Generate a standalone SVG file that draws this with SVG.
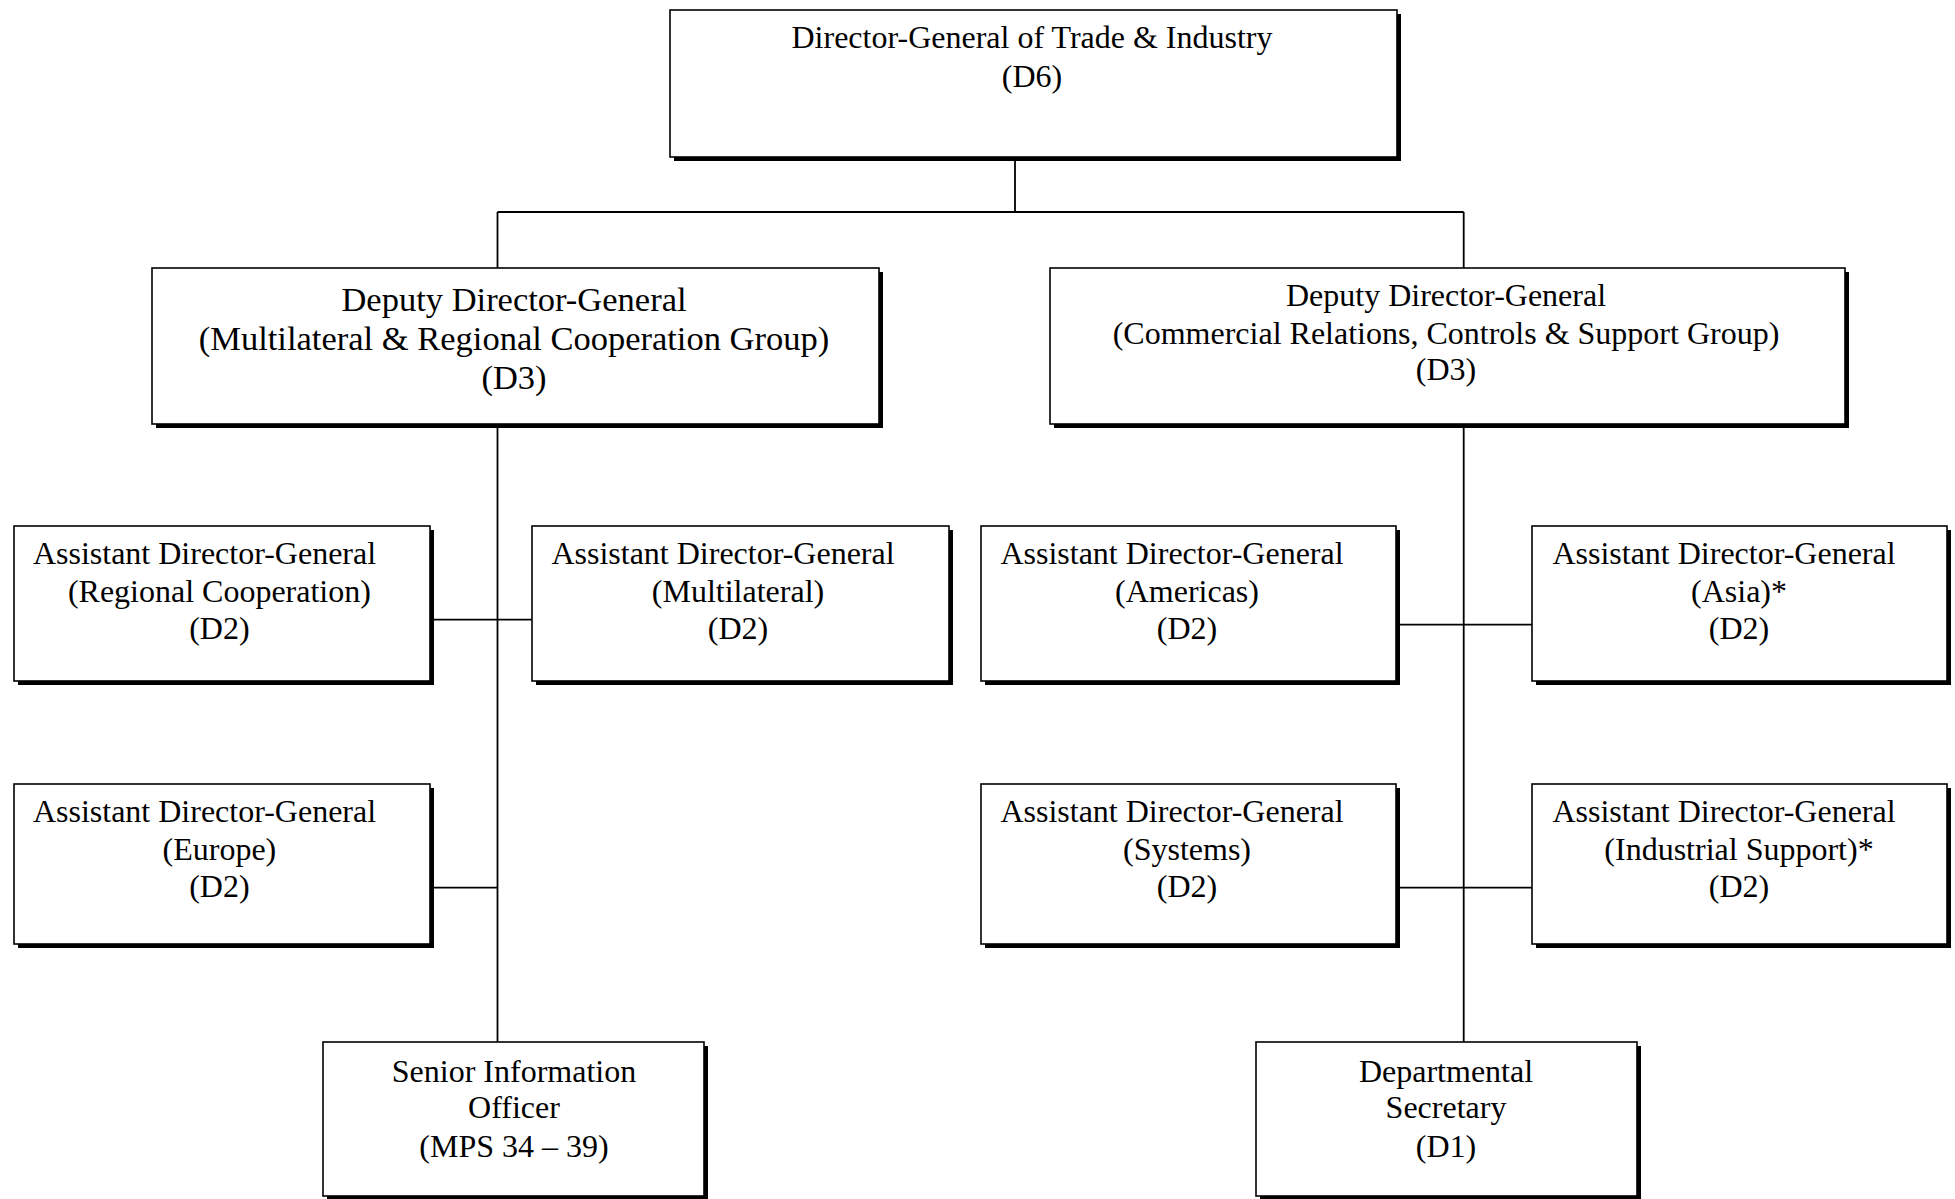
<svg xmlns="http://www.w3.org/2000/svg" width="1955" height="1199" viewBox="0 0 1955 1199">
<style>
.sh{fill:#000}
.bx{fill:#fff;stroke:#000;stroke-width:1.6}
.t{font-family:"Liberation Serif","Times New Roman",serif;font-size:32px;fill:#000;text-anchor:middle}
.tl{font-size:34.5px}
.c{stroke:#000;stroke-width:1.8;fill:none}
</style>
<rect width="1955" height="1199" fill="#fff"/>
<g id="connectors">
<path class="c" d="M1015,157 V212 M497.5,212 H1463.7 M497.5,212 V268 M1463.7,212 V268"/>
<path class="c" d="M497.5,424 V1042 M430,619.6 H532 M430,887.7 H497.5"/>
<path class="c" d="M1463.7,424 V1042 M1396,624.6 H1532 M1396,887.7 H1532"/>
</g>
<g id="dg">
<rect class="sh" x="674" y="14" width="727" height="147"/>
<rect class="bx" x="670" y="10" width="727" height="147"/>
<text class="t" x="1032" y="48">Director-General of Trade &amp; Industry</text>
<text class="t" x="1032" y="87">(D6)</text>
</g>
<g id="ddg-multilateral">
<rect class="sh" x="156" y="272" width="727" height="156"/>
<rect class="bx" x="152" y="268" width="727" height="156"/>
<text class="t tl" x="514" y="311">Deputy Director-General</text>
<text class="t tl" x="514" y="350">(Multilateral &amp; Regional Cooperation Group)</text>
<text class="t tl" x="514" y="389">(D3)</text>
</g>
<g id="ddg-commercial">
<rect class="sh" x="1054" y="272" width="795" height="156"/>
<rect class="bx" x="1050" y="268" width="795" height="156"/>
<text class="t" x="1446" y="306">Deputy Director-General</text>
<text class="t" x="1446" y="344">(Commercial Relations, Controls &amp; Support Group)</text>
<text class="t" x="1446" y="380">(D3)</text>
</g>
<g id="adg-regional">
<rect class="sh" x="18" y="530" width="416" height="155"/>
<rect class="bx" x="14" y="526" width="416" height="155"/>
<text class="t" x="204.5" y="564">Assistant Director-General</text>
<text class="t" x="219.4" y="602">(Regional Cooperation)</text>
<text class="t" x="219.4" y="639">(D2)</text>
</g>
<g id="adg-multilateral">
<rect class="sh" x="536" y="530" width="417" height="155"/>
<rect class="bx" x="532" y="526" width="417" height="155"/>
<text class="t" x="723" y="564">Assistant Director-General</text>
<text class="t" x="738" y="602">(Multilateral)</text>
<text class="t" x="738" y="639">(D2)</text>
</g>
<g id="adg-europe">
<rect class="sh" x="18" y="788" width="416" height="160"/>
<rect class="bx" x="14" y="784" width="416" height="160"/>
<text class="t" x="204.5" y="822">Assistant Director-General</text>
<text class="t" x="219.4" y="860">(Europe)</text>
<text class="t" x="219.4" y="897">(D2)</text>
</g>
<g id="adg-americas">
<rect class="sh" x="985" y="530" width="415" height="155"/>
<rect class="bx" x="981" y="526" width="415" height="155"/>
<text class="t" x="1172" y="564">Assistant Director-General</text>
<text class="t" x="1187" y="602">(Americas)</text>
<text class="t" x="1187" y="639">(D2)</text>
</g>
<g id="adg-asia">
<rect class="sh" x="1536" y="530" width="415" height="155"/>
<rect class="bx" x="1532" y="526" width="415" height="155"/>
<text class="t" x="1724" y="564">Assistant Director-General</text>
<text class="t" x="1739" y="602">(Asia)*</text>
<text class="t" x="1739" y="639">(D2)</text>
</g>
<g id="adg-systems">
<rect class="sh" x="985" y="788" width="415" height="160"/>
<rect class="bx" x="981" y="784" width="415" height="160"/>
<text class="t" x="1172" y="822">Assistant Director-General</text>
<text class="t" x="1187" y="860">(Systems)</text>
<text class="t" x="1187" y="897">(D2)</text>
</g>
<g id="adg-industrial">
<rect class="sh" x="1536" y="788" width="415" height="160"/>
<rect class="bx" x="1532" y="784" width="415" height="160"/>
<text class="t" x="1724" y="822">Assistant Director-General</text>
<text class="t" x="1739" y="860">(Industrial Support)*</text>
<text class="t" x="1739" y="897">(D2)</text>
</g>
<g id="sio">
<rect class="sh" x="327" y="1046" width="381" height="154"/>
<rect class="bx" x="323" y="1042" width="381" height="154"/>
<text class="t" x="514" y="1082">Senior Information</text>
<text class="t" x="514" y="1118">Officer</text>
<text class="t" x="514" y="1157">(MPS 34 – 39)</text>
</g>
<g id="dept-sec">
<rect class="sh" x="1260" y="1046" width="381" height="154"/>
<rect class="bx" x="1256" y="1042" width="381" height="154"/>
<text class="t" x="1446" y="1082">Departmental</text>
<text class="t" x="1446" y="1118">Secretary</text>
<text class="t" x="1446" y="1157">(D1)</text>
</g>
</svg>
